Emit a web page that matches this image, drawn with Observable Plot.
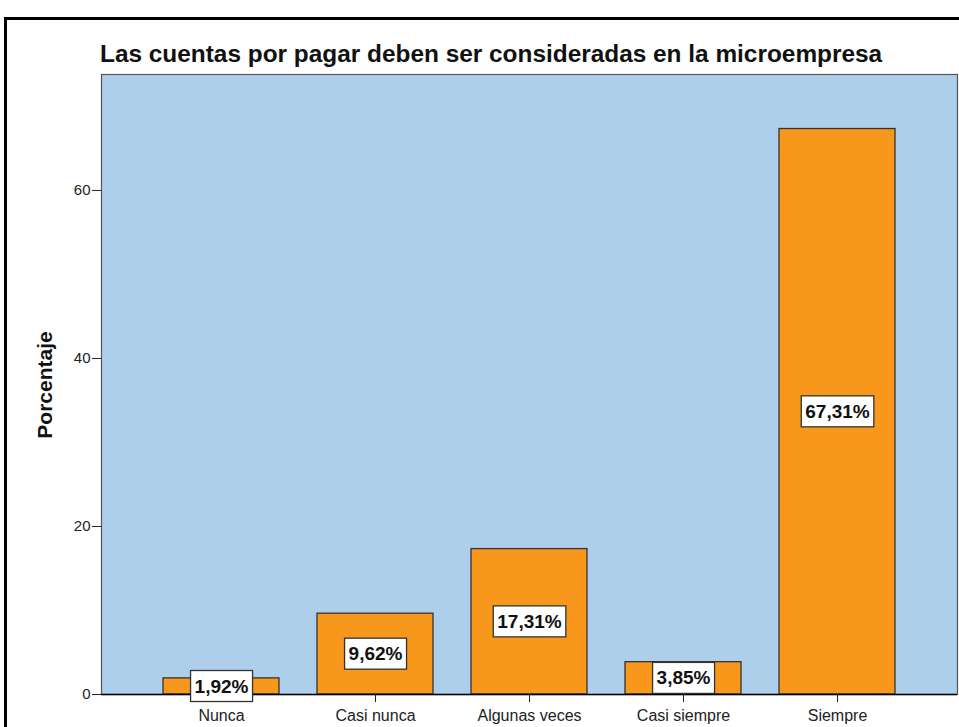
<!DOCTYPE html>
<html>
<head>
<meta charset="utf-8">
<script src="https://cdn.jsdelivr.net/npm/d3@7"></script>
<script src="https://cdn.jsdelivr.net/npm/@observablehq/plot@0.6"></script>
<style>
  html, body { margin: 0; padding: 0; background: #fff; }
  body { width: 959px; height: 727px; overflow: hidden; position: relative;
         font-family: "Liberation Sans", Arial, sans-serif; }
  #border { position: absolute; left: 4px; top: 17px; width: 1000px; height: 800px;
            border-left: 3px solid #000; border-top: 3px solid #000; }
  #chart { position: absolute; left: 0; top: 0; }
  #title { position: absolute; left: 100px; top: 40px; font-weight: bold; font-size: 24.4px;
           line-height: 1.117; color: #111; white-space: nowrap; }
  #ylabel { position: absolute; left: 45px; top: 385px; font-weight: bold; font-size: 21px;
            color: #111; white-space: nowrap; transform: translate(-50%, -50%) rotate(-90deg); }
</style>
</head>
<body>
<div id="border"></div>
<div id="chart"></div>
<div id="title">Las cuentas por pagar deben ser consideradas en la microempresa</div>
<div id="ylabel">Porcentaje</div>
<script>
const categories = ["Nunca", "Casi nunca", "Algunas veces", "Casi siempre", "Siempre"];
const values = [1.92, 9.62, 17.31, 3.85, 67.31];
const valueLabels = ["1,92%", "9,62%", "17,31%", "3,85%", "67,31%"];
const yTicks = [0, 20, 40, 60];

const data = categories.map((c, i) => ({ cat: c, value: values[i], label: valueLabels[i], mid: values[i] / 2 }));

const chart = Plot.plot({
  width: 959,
  height: 727,
  marginLeft: 101,
  marginRight: 2,
  marginTop: 74,
  marginBottom: 33,
  style: { fontFamily: "'Liberation Sans', Arial, sans-serif", color: "#222", background: "transparent", overflow: "visible" },
  x: { domain: categories, paddingInner: 0.247, paddingOuter: 0.4, label: null },
  y: { domain: [0, 73.8], label: null },
  marks: [
    Plot.frame({ fill: "#AECFEC", stroke: "#555", strokeWidth: 1.2 }),
    Plot.barY(data, { x: "cat", y: "value", fill: "#F7981D", stroke: "#333", strokeWidth: 1.3 }),
    Plot.ruleY([0], { stroke: "#000", strokeWidth: 1.5 }),
    Plot.axisY({ ticks: yTicks, tickSize: 9, tickPadding: 2, fontSize: 15, label: null }),
    Plot.axisX({ tickSize: 8, tickPadding: 7, fontSize: 16, label: null }),
    Plot.text(data, { x: "cat", y: "mid", text: "label", fontSize: 19, fontWeight: "bold", fill: "#111" })
  ]
});
document.getElementById("chart").appendChild(chart);

// white boxes behind the value labels, sized from the rendered text
const labelSet = new Set(valueLabels);
chart.querySelectorAll("text").forEach(t => {
  if (!labelSet.has(t.textContent.trim())) return;
  const b = t.getBBox();
  const r = document.createElementNS("http://www.w3.org/2000/svg", "rect");
  r.setAttribute("x", b.x - 4);
  r.setAttribute("y", b.y - 5);
  r.setAttribute("width", b.width + 8);
  r.setAttribute("height", b.height + 10);
  r.setAttribute("fill", "#fff");
  r.setAttribute("stroke", "#333");
  r.setAttribute("stroke-width", "1.3");
  const tr = t.getAttribute("transform");
  if (tr) r.setAttribute("transform", tr);
  t.parentNode.insertBefore(r, t);
});
</script>
</body>
</html>
